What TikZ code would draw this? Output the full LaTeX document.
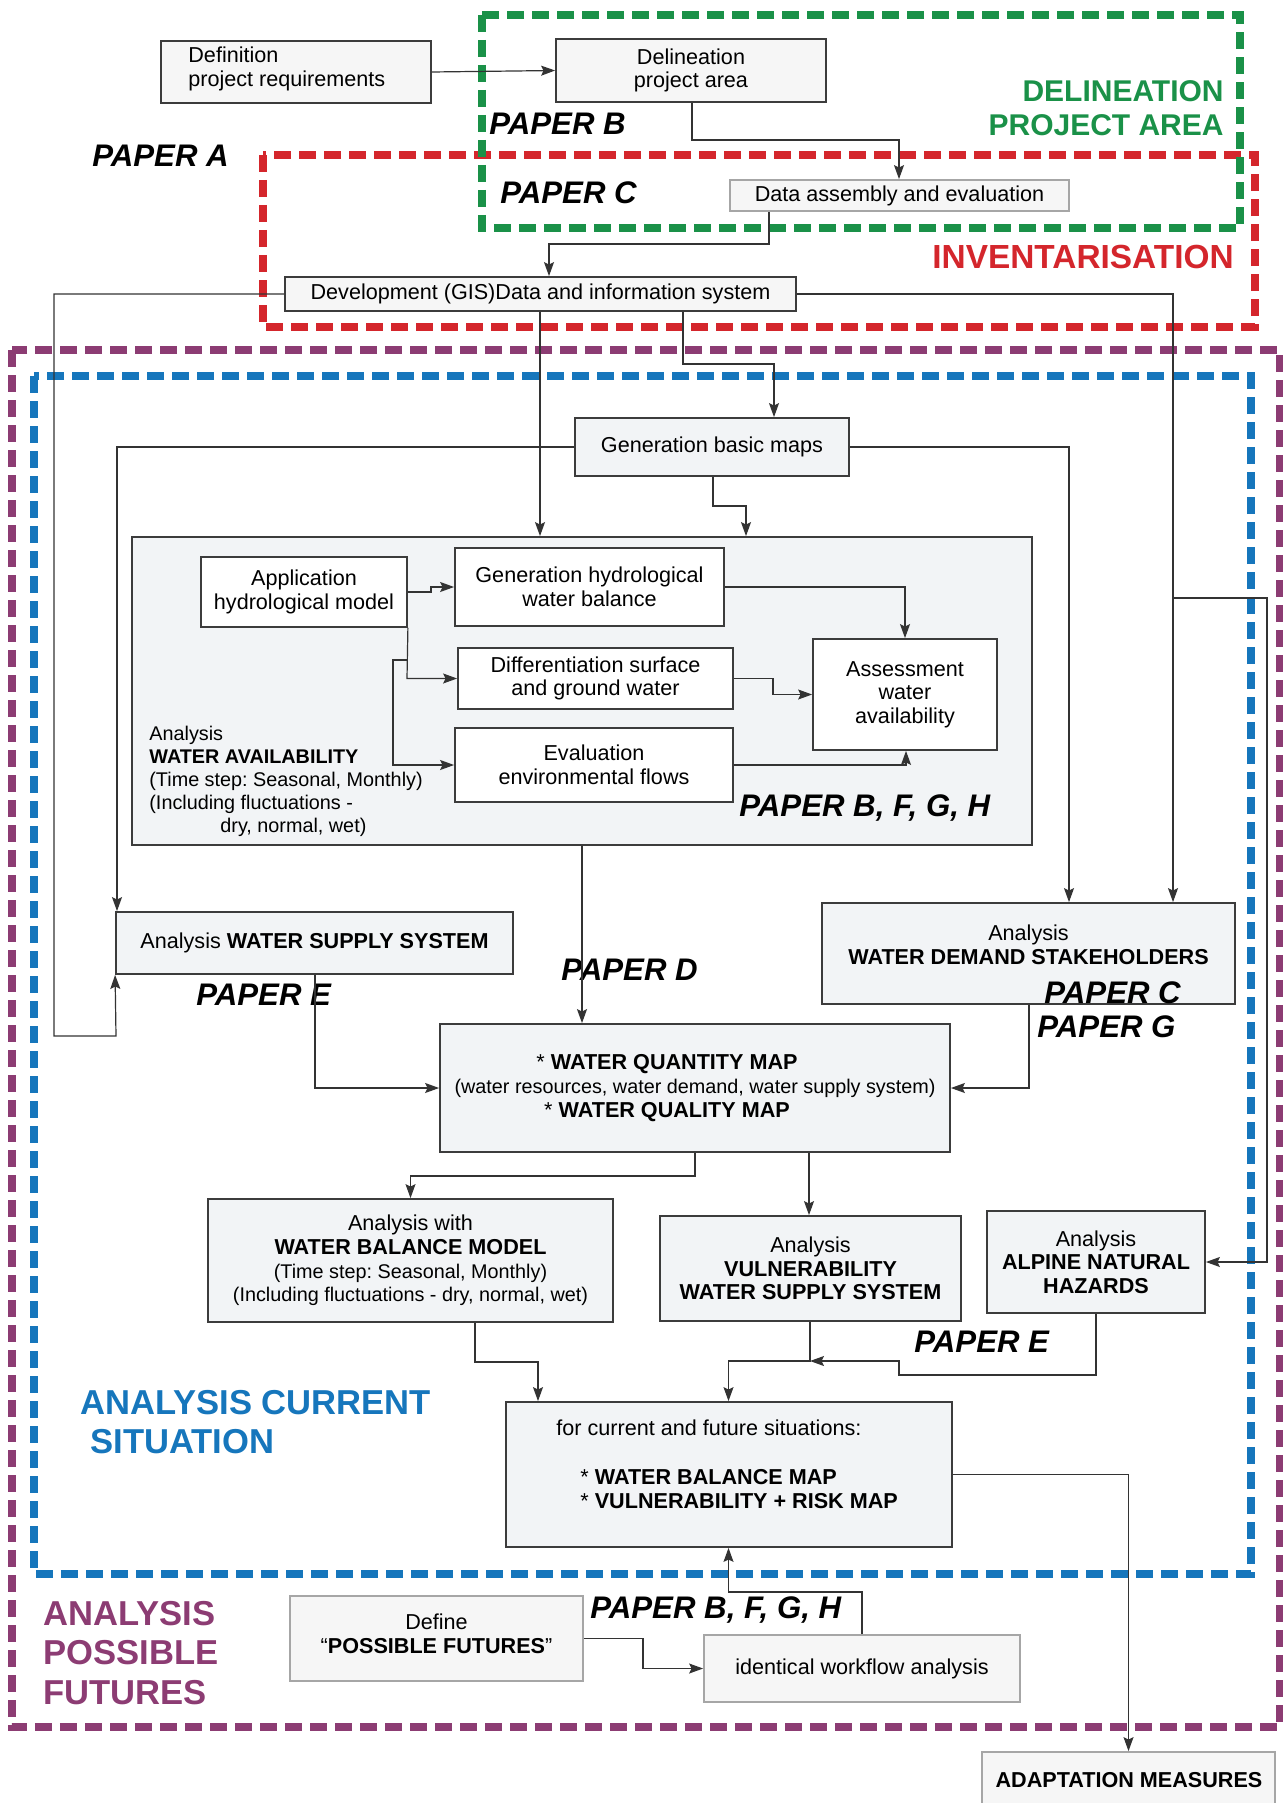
\documentclass[tikz,border=0pt]{standalone}
\usepackage{fontspec}
\setmainfont{Liberation Sans}
\usetikzlibrary{arrows.meta}
\frenchspacing

\definecolor{gframe}{RGB}{26,145,72}
\definecolor{rframe}{RGB}{212,38,44}
\definecolor{bframe}{RGB}{22,118,188}
\definecolor{pframe}{RGB}{140,60,115}
\definecolor{boxgray}{RGB}{246,246,246}
\definecolor{boxblue}{RGB}{242,244,246}
\definecolor{edge}{RGB}{60,60,60}

\newcommand\fmain{\fontsize{10.8}{11.8}\selectfont}
\newcommand\fparen{\fontsize{9.9}{11.8}\selectfont}
\newcommand\fsmall{\fontsize{9.9}{11.5}\selectfont}

\begin{document}
\begin{tikzpicture}[x=0.5pt,y=-0.5pt,
  box/.style={draw=edge, line width=0.9pt, fill=boxgray, inner sep=0pt, align=center, font=\fmain},
  sz/.style 2 args={minimum width=#1, minimum height=#2},
  abox/.style={box, fill=boxblue},
  wbox/.style={box, fill=white},
  lbox/.style={box, draw=black!35},
  txt/.style={inner sep=0pt, font=\fmain},
  link/.style={draw=black!80, line width=0.6pt},
  conn/.style={link, -{Stealth[length=7pt,width=5pt,inset=1.2pt]}},
  paper/.style={inner sep=0pt, anchor=west, font=\fontsize{15.6}{18}\selectfont\bfseries\itshape},
  frame/.style={line width=3.8pt, dash pattern=on 8.5pt off 4pt},
  flabel/.style={inner sep=0pt, font=\bfseries}
]
\useasboundingbox (0,0) rectangle (1282,1803);

% ---- dashed phase frames ----
\draw[frame, pframe] (12,350) rectangle (1280,1727);
\draw[frame, bframe] (34,376) rectangle (1251,1574);
\draw[frame, rframe] (263,155) rectangle (1255,327);
\draw[frame, gframe] (482,15) rectangle (1240,228);

% ---- frame titles ----
\node[flabel, gframe, anchor=east, align=right, font=\fontsize{15}{17}\selectfont\bfseries]
  (tdel) at (1224,108) {DELINEATION\\PROJECT AREA};
\node[flabel, rframe, anchor=west, font=\fontsize{16.7}{19}\selectfont\bfseries]
  (tinv) at (932,257) {INVENTARISATION};
\node[flabel, bframe, anchor=west, align=left, font=\fontsize{17.3}{19.5}\selectfont\bfseries]
  (tcur) at (80,1422.5) {ANALYSIS CURRENT\\\hspace*{5pt}SITUATION};
\node[flabel, pframe, anchor=west, align=left, font=\fontsize{17.3}{19.7}\selectfont\bfseries]
  (tfut) at (43,1653) {ANALYSIS\\POSSIBLE\\FUTURES};

% ---- delineation and inventory ----
\node[box, sz={135pt}{31pt}] (def) at (296,72) {};
\node[txt, anchor=west, align=left] (deft) at (188,69) {Definition\\project requirements};
\node[box, sz={135pt}{31.5pt}] (del) at (691,70.5) {Delineation\\project area};
\node[lbox, sz={169.5pt}{15.5pt}] (data) at (899.5,195.5) {Data assembly and evaluation};
\node[box, sz={255.5pt}{17pt}] (dev) at (540.5,294) {Development (GIS)Data and information system};

% ---- current situation ----
\node[abox, sz={137pt}{29pt}] (gbm) at (712,447) {Generation basic maps};

\node[abox, sz={450pt}{154pt}] (big) at (582,691) {};
\node[wbox, sz={103pt}{35pt}] (app) at (304,592) {Application\\hydrological model};
\node[wbox, sz={134.5pt}{39pt}] (genh) at (589.5,587) {Generation hydrological\\water balance};
\node[wbox, sz={137.5pt}{30.5pt}] (diff) at (595.5,678.5) {Differentiation surface\\and ground water};
\node[wbox, sz={92pt}{55.5pt}] (assess) at (905,694.5) {Assessment\\water\\availability};
\node[wbox, sz={139pt}{37pt}] (eval) at (594,765) {Evaluation\\environmental flows};
\node[txt, anchor=west, align=left, font=\fsmall] (wat) at (149,781)
  {Analysis\\\textbf{WATER AVAILABILITY}\\(Time step: Seasonal, Monthly)\\(Including fluctuations -\\\hspace*{35.5pt}dry, normal, wet)};
\node[paper] (pb1) at (739,808) {PAPER B, F, G, H};

\node[abox, sz={198.5pt}{31pt}] (sup) at (314.5,943) {Analysis \textbf{WATER SUPPLY SYSTEM}};
\node[abox, sz={206.5pt}{50.5pt}] (dem) at (1028.5,953.5) {};
\node[txt, align=center] (demt) at (1028.5,945) {Analysis\\\textbf{WATER DEMAND STAKEHOLDERS}};

\node[abox, sz={255pt}{64pt}] (wq) at (695,1088)
  {{*} \textbf{WATER QUANTITY MAP}\hspace*{28pt}\\{\fparen(water resources, water demand, water supply system)}\\{*} \textbf{WATER QUALITY MAP}\hspace*{28pt}};

\node[abox, sz={202.5pt}{61.5pt}] (wbm) at (410.5,1260.5)
  {Analysis with\\\textbf{WATER BALANCE MODEL}\\{\fparen(Time step: Seasonal, Monthly)}\\{\fparen(Including fluctuations - dry, normal, wet)}};
\node[abox, sz={150.5pt}{52.5pt}] (vul) at (810.5,1268.5) {Analysis\\\textbf{VULNERABILITY}\\\textbf{WATER SUPPLY SYSTEM}};
\node[abox, sz={109pt}{51pt}] (haz) at (1096,1262) {Analysis\\\textbf{ALPINE NATURAL}\\\textbf{HAZARDS}};

\node[abox, sz={223pt}{72.5pt}] (cur) at (729,1474.5) {};
\node[txt, anchor=west] (curt) at (556,1428) {for current and future situations:};
\node[txt, anchor=west, align=left] (curm) at (580,1489)
  {{*} \textbf{WATER BALANCE MAP}\\{*} \textbf{VULNERABILITY + RISK MAP}};

% ---- possible futures ----
\node[lbox, sz={146.5pt}{42.5pt}] (defn) at (436.5,1638.5) {};
\node[txt, align=center] (defnt) at (436.5,1633.5) {Define\\“\textbf{POSSIBLE FUTURES}”};
\node[lbox, sz={158pt}{33.5pt}] (iden) at (862,1668.5) {identical workflow analysis};
\node[lbox, sz={146.5pt}{44pt}] (adapt) at (1128.5,1796) {};
\node[txt] (adaptt) at (1129,1780) {\textbf{ADAPTATION MEASURES}};

% ---- paper references ----
\node[paper] (pa) at (92,156) {PAPER A};
\node[paper] (pb) at (489,124) {PAPER B};
\node[paper] (pc) at (500,193) {PAPER C};
\node[paper] (pd) at (561,970) {PAPER D};
\node[paper] (pe1) at (196,995) {PAPER E};
\node[paper] (pc2) at (1044,993) {PAPER C};
\node[paper] (pg) at (1037,1027) {PAPER G};
\node[paper] (pe2) at (914,1342) {PAPER E};
\node[paper] (pb2) at (590,1610) {PAPER B, F, G, H};

% ---- connectors: delineation and inventory ----
\draw[conn] (def.east) -- (del.west);
\draw[conn] (del.south -| 692,0) -- (692,140) -- (899,140) -- (data.north -| 899,0);
\draw[conn] (data.south -| 769,0) -- (769,244) -- (549,244) -- (dev.north -| 549,0);

% ---- connectors: from the information system ----
\draw[conn] (dev.west) -| (54,1036) -- (116,1036) -- (sup.south west);
\draw[conn] (dev.south -| 540,0) -- (big.north -| 540,0);
\draw[conn] (dev.south -| 683,0) -- (683,364) -- (774,364) -- (gbm.north -| 774,0);
\draw[conn] (dev.east) -| (dem.north -| 1173,0);
\coordinate (j1) at (1173,598);
\draw[conn] (j1) -- (1267,598) |- (haz.east);

% ---- connectors: basic maps ----
\draw[conn] (gbm.west) -| (sup.north -| 117,0);
\draw[conn] (gbm.east) -| (dem.north -| 1069,0);
\draw[conn] (gbm.south -| 713,0) -- (713,506) -- (746,506) -- (big.north -| 746,0);

% ---- connectors: water availability ----
\draw[conn] (app.east) -- (431,592) -- (431,587) -- (genh.west);
\draw[conn] (app.south east) -- (407,678.5) -- (diff.west);
\coordinate (j3) at (407,660);
\draw[conn] (j3) -- (393,660) |- (eval.west);
\draw[conn] (genh.east) -| (assess.north -| 905,0);
\draw[conn] (diff.east) -- (773,678.5) |- (assess.west);
\draw[conn] (eval.east) -| (assess.south -| 906,0);

% ---- connectors: maps ----
\draw[conn] (big.south -| 582,0) -- (wq.north -| 582,0);
\draw[conn] (sup.south -| 315,0) |- (wq.west);
\draw[conn] (dem.south -| 1029,0) |- (wq.east);
\draw[conn] (wq.south -| 695,0) -- (695,1176) -- (410.5,1176) -- (wbm.north);
\draw[conn] (wq.south -| 809,0) -- (vul.north -| 809,0);

% ---- connectors: towards the final maps ----
\draw[conn] (wbm.south -| 475,0) -- (475,1362) -- (538,1362) -- (cur.north -| 538,0);
\coordinate (j2) at (810,1361);
\draw[conn] (vul.south -| 810,0) -- (j2) -- (728.5,1361) -- (cur.north -| 728.5,0);
\draw[conn] (haz.south) -- (1096,1375) -- (899,1375) -- (899,1361) -- (j2);
\draw[conn] (cur.east) -| (adapt.north);

% ---- connectors: possible futures ----
\draw[conn] (defn.east) -- (643,1638.5) |- (iden.west);
\draw[conn] (iden.north -| 862,0) -- (862,1592) -- (728.5,1592) -- (cur.south -| 728.5,0);
\end{tikzpicture}
\end{document}
